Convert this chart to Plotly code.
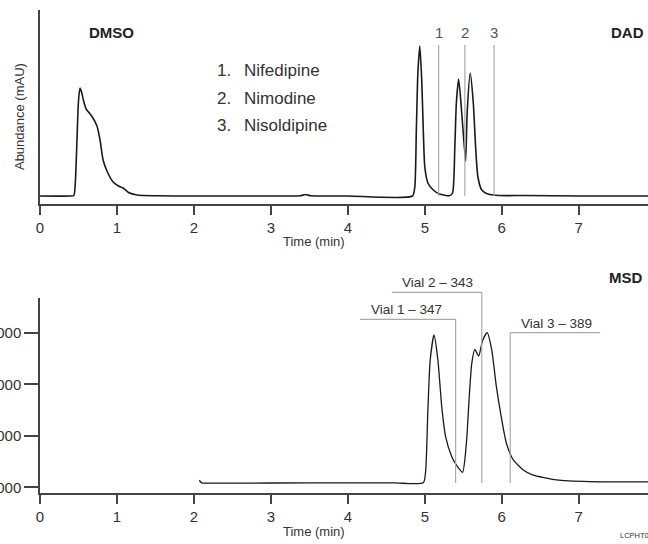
import plotly.graph_objects as go

# DAD trace (top), abundance in mAU
dad_time = [0.00, 0.40, 0.44, 0.46, 0.48, 0.50, 0.52, 0.54, 0.57, 0.60, 0.63, 0.68, 0.74, 0.78,
            0.82, 0.87, 0.95, 1.02, 1.08, 1.15, 1.26, 1.50, 2.00, 3.00, 3.38, 3.45, 3.52, 4.00,
            4.84, 4.87, 4.89, 4.91, 4.935, 4.96, 4.98, 5.00, 5.04, 5.11, 5.19, 5.32, 5.36, 5.39,
            5.41, 5.44, 5.48, 5.53, 5.55, 5.59, 5.63, 5.66, 5.69, 5.74, 5.82, 5.97, 6.30, 7.00, 7.90]
dad_abund = [0, 0, 0.5, 15, 55, 95, 108, 104, 94, 87, 84, 79, 70, 56,
             36, 25, 14, 10, 8, 3.5, 1, 0.2, 0, 0, 0.2, 1.5, 0.2, 0,
             0, 9, 66, 123, 150, 116, 66, 29, 13, 6, 2, 0.3, 3, 49,
             93, 117, 83, 35, 83, 123, 93, 49, 19, 6, 2, 0.5, 0.5, 0, 0]

# MSD trace (bottom), abundance in counts
msd_time = [2.07, 2.10, 2.20, 3.00, 4.00, 4.60, 4.98, 5.01, 5.04, 5.07, 5.12, 5.17, 5.22, 5.27,
            5.35, 5.41, 5.49, 5.54, 5.58, 5.61, 5.65, 5.70, 5.75, 5.81, 5.87, 5.93, 6.00, 6.06,
            6.15, 6.28, 6.40, 6.71, 7.14, 7.90]
msd_abund = [1140000, 1090000, 1085000, 1087000, 1090000, 1090000, 1090000, 1300000, 2505000,
             3476000, 3961000, 3476000, 2569000, 1986000, 1598000, 1437000, 1295000, 1858000,
             2829000, 3412000, 3683000, 3553000, 3850000, 4006000, 3670000, 2957000, 2311000,
             1858000, 1534000, 1340000, 1243000, 1146000, 1113000, 1107000]

x_ticks = [0, 1, 2, 3, 4, 5, 6, 7]
msd_ticks = [1000000, 2000000, 3000000, 4000000]

dad_peak_times = [5.18, 5.52, 5.90]
dad_peak_labels = ['1', '2', '3']
compound_nums = ['1.', '2.', '3.']
compound_names = ['Nifedipine', 'Nimodine', 'Nisoldipine']

vial_times = [5.40, 5.74, 6.11]
vial_labels = ['Vial 1 \u2013 347', 'Vial 2 \u2013 343', 'Vial 3 \u2013 389']

FONT = 'Liberation Sans, Arial, sans-serif'
AXC = '#444444'
GRAY = '#aaaaaa'
TXT = '#333333'

dad_range = [-8, 186]
msd_range = [893000, 4680000]


def dad_dom(v):
    return (v - dad_range[0]) / (dad_range[1] - dad_range[0])


def msd_dom(v):
    return (v - msd_range[0]) / (msd_range[1] - msd_range[0])


def note(text, x, y, xref, yref, size, color=TXT, xanchor='center', **kw):
    return dict(text=text, x=x, y=y, xref=xref, yref=yref, xanchor=xanchor, yanchor='middle',
                showarrow=False, font=dict(size=size, color=color), **kw)


fig = go.Figure()
fig.add_trace(go.Scatter(x=dad_time, y=dad_abund, mode='lines', xaxis='x', yaxis='y',
                         line=dict(color='#1a1a1a', width=1.6, shape='spline', smoothing=0.6)))
fig.add_trace(go.Scatter(x=msd_time, y=msd_abund, mode='lines', xaxis='x2', yaxis='y2',
                         line=dict(color='#1a1a1a', width=1.3, shape='spline', smoothing=0.6)))

shapes = []
annotations = []

# DAD peak markers
for t, lab in zip(dad_peak_times, dad_peak_labels):
    shapes.append(dict(type='line', xref='x', yref='y', x0=t, x1=t, y0=0, y1=151,
                       line=dict(color=GRAY, width=1.2)))
    annotations.append(note(lab, t, 164, 'x', 'y', 15, '#555555'))

# compound list
for i, (n, name) in enumerate(zip(compound_nums, compound_names)):
    yy = 126 - 28 * i
    annotations.append(note(n, 2.27, yy, 'x', 'y', 17, xanchor='left'))
    annotations.append(note(name, 2.63, yy, 'x', 'y', 17, xanchor='left'))

# MSD vial markers
bar_x0 = [4.16, 4.57, 6.11]
bar_x1 = [5.40, 5.74, 7.28]
bar_level = [4266000, 4790000, 4006000]
for t, lab, x0, x1, lev in zip(vial_times, vial_labels, bar_x0, bar_x1, bar_level):
    shapes.append(dict(type='line', xref='x2', yref='y2 domain', x0=t, x1=t,
                       y0=msd_dom(1087000), y1=msd_dom(lev), line=dict(color=GRAY, width=1.2)))
    shapes.append(dict(type='line', xref='x2', yref='y2 domain', x0=x0, x1=x1,
                       y0=msd_dom(lev), y1=msd_dom(lev), line=dict(color=GRAY, width=1.2)))
    annotations.append(dict(text=lab, x=x0 + 0.11, y=msd_dom(lev), xref='x2', yref='y2 domain',
                            xanchor='left', yanchor='bottom', showarrow=False,
                            font=dict(size=13.5, color=TXT)))

# labels
annotations += [
    note('<b>DMSO</b>', 0.93, 164, 'x', 'y', 15, '#222222'),
    note('<b>DAD</b>', 7.64, 164, 'x', 'y', 15, '#222222'),
    note('<b>MSD</b>', 7.62, msd_dom(5087000), 'x2', 'y2 domain', 15, '#222222'),
    note('Abundance (mAU)', -0.0345, dad_dom(79), 'paper', 'y domain', 13, textangle=-90),
    note('Time (min)', 3.56, dad_dom(-46), 'x', 'y domain', 13),
    note('Time (min)', 3.56, msd_dom(136000), 'x2', 'y2 domain', 13),
    note('LCPHT0', 7.515, msd_dom(58000), 'x2', 'y2 domain', 7.5, xanchor='left'),
]

xax = dict(range=[0, 7.9], tickvals=x_ticks, ticks='outside', ticklen=9, tickwidth=1.5,
           tickcolor=AXC, showline=True, linecolor=AXC, linewidth=1.5, showgrid=False,
           zeroline=False, automargin=False, tickfont=dict(size=15, color=TXT))

fig.update_layout(
    template='none',
    width=648, height=544,
    margin=dict(l=40, r=0, t=0, b=0),
    paper_bgcolor='white', plot_bgcolor='white',
    showlegend=False,
    font=dict(family=FONT),
    xaxis=dict(xax, anchor='y'),
    yaxis=dict(domain=[0.625, 0.9816], range=dad_range, showline=True, linecolor=AXC,
               linewidth=1.5, showticklabels=False, ticks='', showgrid=False, zeroline=False,
               automargin=False, anchor='x'),
    xaxis2=dict(xax, anchor='y2'),
    yaxis2=dict(domain=[0.0938, 0.4522], range=msd_range, tickvals=msd_ticks,
                tickformat='d', ticks='outside', ticklen=14, tickwidth=1.5, tickcolor=AXC,
                showline=True, linecolor=AXC, linewidth=1.5, showgrid=False, zeroline=False,
                automargin=False, anchor='x2', tickfont=dict(size=15, color=TXT)),
    shapes=shapes,
    annotations=annotations,
)

fig.write_html("out.html", config={'displayModeBar': False},
               post_script="document.body.style.margin='0px';")
